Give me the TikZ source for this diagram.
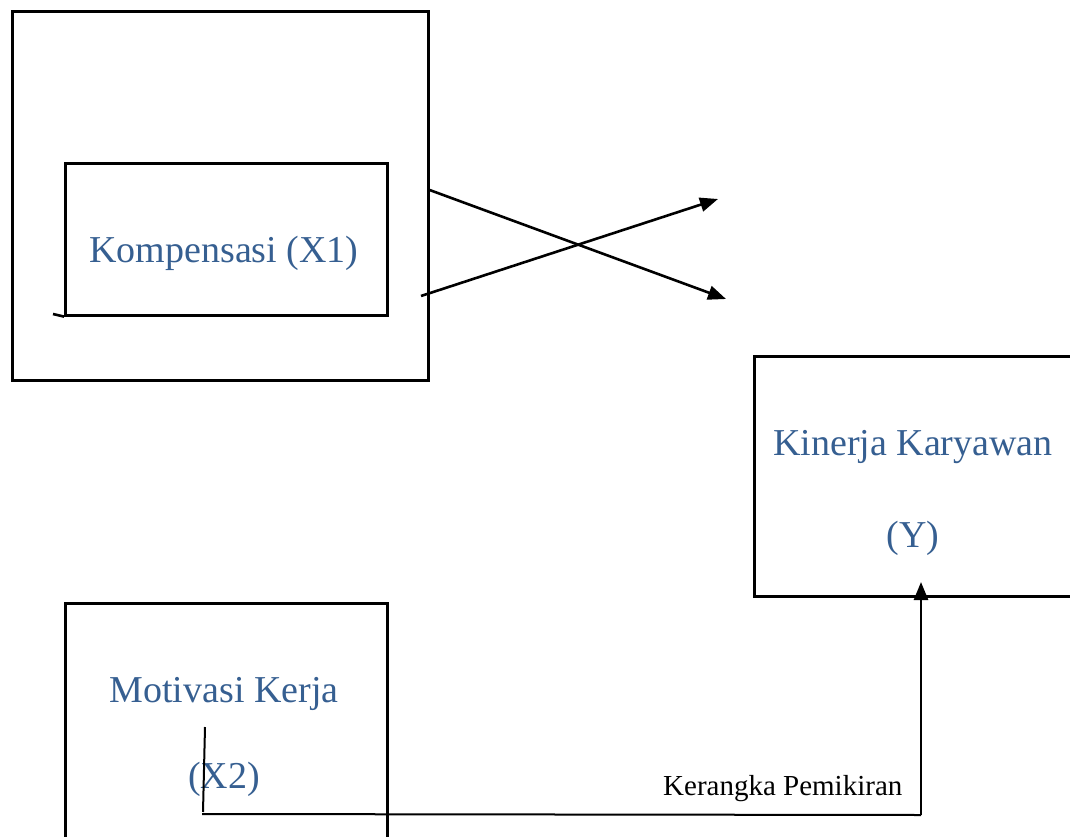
\documentclass[tikz,border=0pt]{standalone}
\usepackage{fontspec}
\setmainfont{Liberation Serif}
\usetikzlibrary{arrows.meta, positioning}
\definecolor{varblue}{RGB}{54,95,145}
\tikzstyle{boxNode} = [rectangle, draw=black, line width=2.6pt, inner sep=0pt, anchor=north west]
\tikzstyle{varText} = [text=varblue, font=\fontsize{38}{46}\selectfont, align=center, anchor=base, inner sep=0pt]
\tikzstyle{arrow} = [line width=2.6pt, -{Triangle[length=18pt,width=14pt]}]
\tikzstyle{line} = [line width=2pt]

\begin{document}
\begin{tikzpicture}[x=1pt, y=-1pt]
        \clip (0,0) rectangle (1070,837);
        \node (outer) [boxNode, minimum width=416pt, minimum height=369pt] at (11,10) {};
        \node (kompensasi) [boxNode, minimum width=322pt, minimum height=152pt] at (64,162) {};
        \node (kinerja) [boxNode, minimum width=340pt, minimum height=240pt] at (753,355) {};
        \node (motivasi) [boxNode, minimum width=322pt, minimum height=260pt] at (64,602) {};

        \node (x1) [varText] at (224,262) {Kompensasi (X1)};
        \node (y) [varText] at (913,547) {Kinerja Karyawan\\[46pt](Y)};
        \node (x2) [varText] at (224,788) {Motivasi Kerja\\[40pt](X2)};
        \node (caption) [font=\fontsize{29}{35}\selectfont, anchor=base west, inner sep=0pt] at (663,795) {Kerangka Pemikiran};

        \coordinate (stub) at (53,314);
        \coordinate (from2) at (421,296);
        \coordinate (to1) at (726,299);
        \coordinate (to2) at (718,199);
        \coordinate (tick) at (205,727);
        \coordinate (tickend) at (203,812);
        \coordinate (basestart) at (202,814);
        \coordinate (turn) at (921,815);
        \coordinate (tip) at (921,582);

        \draw [line, line width=2.6pt] (kompensasi.south west) -- (stub);
        \draw [arrow] (outer.east |- 0,190) -- (to1);
        \draw [arrow] (from2) -- (to2);
        \draw [line] (tick) -- (tickend);
        \draw [line] (basestart) -- (turn);
        \draw [arrow] (turn) -- (tip);
    \end{tikzpicture}
\end{document}
